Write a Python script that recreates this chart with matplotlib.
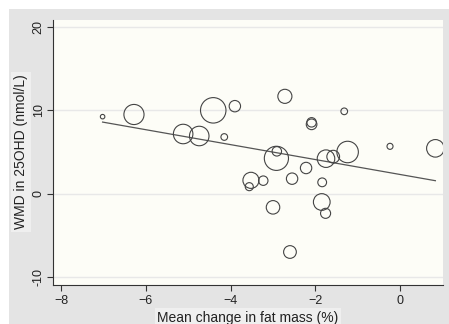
import matplotlib.pyplot as plt
from matplotlib.patches import Rectangle

# study-level results: mean change in fat mass (%) vs WMD in 25OHD (nmol/L)
fat_change = [-7.02, -6.28, -4.41, -3.90, -5.12, -4.74, -4.15, -2.72, -1.32,
              -2.09, -2.09, -0.24, 0.83, -1.24, -1.75, -1.58, -2.92, -2.91,
              -2.22, -2.55, -1.84, -3.52, -3.56, -3.23, -3.00, -1.85, -1.76,
              -2.60]
wmd_25ohd = [9.24, 9.50, 10.0, 10.5, 7.16, 6.92, 6.80, 11.68, 9.88,
             8.32, 8.56, 5.68, 5.44, 5.00, 4.20, 4.44, 4.24, 5.08,
             3.08, 1.80, 1.36, 1.60, 0.84, 1.56, -1.64, -1.00, -2.36,
             -7.00]
# study weights (bubble area)
weights = [5, 100, 160, 32, 94, 94, 11, 49, 11,
           28, 22, 9, 76, 114, 76, 40, 144, 22,
           32, 32, 19, 64, 16, 22, 45, 69, 25,
           40]

# meta-regression fit
intercept = 2.30
slope = -0.896

fig = plt.figure(figsize=(4.49, 3.24), dpi=100, facecolor='white')
fig.patches.append(Rectangle((9 / 449, 0), 1, 1 - 9 / 324, transform=fig.transFigure,
                             facecolor='#e4e4e4', edgecolor='none', zorder=-10))

ax = fig.add_axes([53 / 449, 1 - 285 / 324, 390 / 449, 265 / 324])
ax.set_facecolor('#fdfdf7')

ax.scatter(fat_change, wmd_25ohd, s=[w * 2.1 for w in weights], facecolors='none',
           edgecolors='#444444', linewidths=0.8, zorder=3)

x0, x1 = min(fat_change), max(fat_change)
ax.plot([x0, x1], [intercept + slope * x0, intercept + slope * x1],
        color='#555555', linewidth=0.9, zorder=2)

ax.set_xlim(-8.19, 1.01)
ax.set_ylim(-10.96, 20.84)
ax.set_xticks([-8, -6, -4, -2, 0])
ax.set_yticks([-10, 0, 10, 20])
ax.set_yticklabels(['-10', '0', '10', '20'], rotation=90, va='center')

for y in [-10, 0, 10, 20]:
    ax.axhline(y, color='#e8e8e8', linewidth=1.0, zorder=1)

for side in ['top', 'right']:
    ax.spines[side].set_visible(False)
ax.spines['left'].set_color('#333333')
ax.spines['bottom'].set_color('#333333')
ax.tick_params(direction='out', length=4, width=0.8, colors='#333333',
               labelsize=9, labelcolor='#222222')
ax.tick_params(axis='y', pad=2)

font = 'Liberation Sans'
for lbl in ax.get_xticklabels() + ax.get_yticklabels():
    lbl.set_family(font)

box = dict(facecolor='#efefef', edgecolor='none', pad=2)
fig.text(21 / 449, 1 - 152 / 324, 'WMD in 25OHD (nmol/L)', rotation=90,
         ha='center', va='center', fontsize=10, family=font, color='#222222',
         bbox=box, zorder=-5)
fig.text(248 / 449, 1 - 318 / 324, 'Mean change in fat mass (%)',
         ha='center', va='center', fontsize=10, family=font, color='#222222',
         bbox=box, zorder=-5)

fig.savefig('out.png', dpi=100, facecolor=fig.get_facecolor())
